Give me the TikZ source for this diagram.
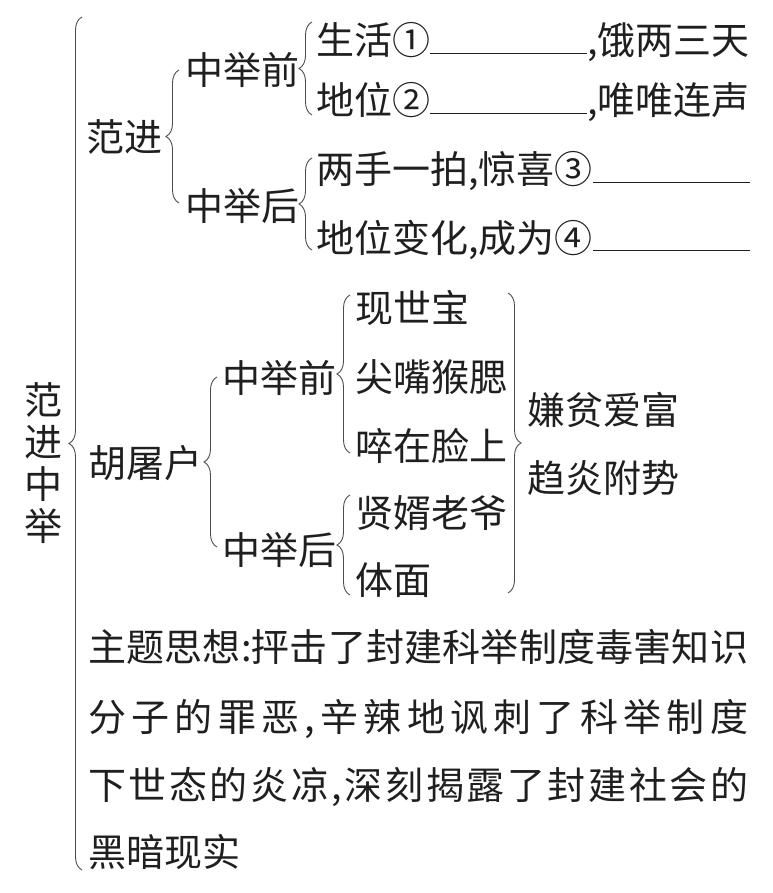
\documentclass[tikz,border=0pt]{standalone}
\usepackage{fontspec}
\setmainfont{Noto Sans CJK SC}
\usetikzlibrary{decorations.pathreplacing}

% spread the characters of one line over a fixed width
\newcommand\spreadline[1]{\hbox to 660pt{\spreadfirst#1\relax}}
\def\spreadfirst#1{#1\spreadrest}
\def\spreadrest#1{\ifx#1\relax\else\hfill#1\expandafter\spreadrest\fi}
\newcommand\blank{\rule[1pt]{157pt}{1.1pt}}

\begin{document}
\begin{tikzpicture}[x=1pt, y=-1pt, font=\fontsize{38}{42}\selectfont,
  txt/.style={anchor=base west, inner sep=0pt, text=black!88},
  br/.style={decorate, decoration={brace, amplitude=13pt}, draw=black!70, line width=0.9pt}]
  \useasboundingbox (0,0) rectangle (772,893);
  % title, set vertically
  \node[inner sep=0pt, align=center, text=black!88] (title) at (43,463) {范\\进\\中\\举};
  % Fan Jin
  \node[txt] (fanjin) at (86,152) {范进};
  \node[txt] (qian1) at (185,85) {中举前};
  \node[txt] (hou1) at (185,221) {中举后};
  \node[txt] (shenghuo) at (316,55) {生活①\blank,饿两三天};
  \node[txt] (diwei) at (316,115) {地位②\blank,唯唯连声};
  \node[txt] (liangshou) at (316,184) {两手一拍,惊喜③\blank};
  \node[txt] (bianhua) at (316,252) {地位变化,成为④\blank};
  % butcher Hu
  \node[txt] (hutu) at (88,477) {胡屠户};
  \node[txt] (qian2) at (222,392) {中举前};
  \node[txt] (hou2) at (222,564) {中举后};
  \node[txt] (xianshi) at (355,322) {现世宝};
  \node[txt] (jianzui) at (355,391) {尖嘴猴腮};
  \node[txt] (cui) at (355,460) {啐在脸上};
  \node[txt] (xianxu) at (355,527) {贤婿老爷};
  \node[txt] (timian) at (355,594) {体面};
  \node[txt] (xianpin) at (527,424) {嫌贫爱富};
  \node[txt] (quyan) at (527,492) {趋炎附势};
  % theme
  \node[txt] (zhuti1) at (88,661) {\spreadline{主题思想:抨击了封建科举制度毒害知识}};
  \node[txt] (zhuti2) at (88,731) {\spreadline{分子的罪恶,辛辣地讽刺了科举制度}};
  \node[txt] (zhuti3) at (88,799) {\spreadline{下世态的炎凉,深刻揭露了封建社会的}};
  \node[txt] (zhuti4) at (88,866) {黑暗现实};
  % brace ends
  \coordinate (bigtop) at (82,17);     \coordinate (bigbot) at (82,870);
  \coordinate (fjtop) at (179,70);     \coordinate (fjbot) at (179,203);
  \coordinate (q1top) at (312,22);     \coordinate (q1bot) at (312,115);
  \coordinate (h1top) at (312,158);    \coordinate (h1bot) at (312,250);
  \coordinate (hutop) at (217,377);    \coordinate (hubot) at (217,547);
  \coordinate (q2top) at (350,295);    \coordinate (q2bot) at (350,453);
  \coordinate (h2top) at (350,495);    \coordinate (h2bot) at (350,595);
  \coordinate (rtop) at (508,293);     \coordinate (rbot) at (508,593);
  % braces
  \draw[br] (bigbot) -- (bigtop);
  \draw[br] (fjbot) -- (fjtop);
  \draw[br] (q1bot) -- (q1top);
  \draw[br] (h1bot) -- (h1top);
  \draw[br] (hubot) -- (hutop);
  \draw[br] (q2bot) -- (q2top);
  \draw[br] (h2bot) -- (h2top);
  \draw[br] (rtop) -- (rbot);
\end{tikzpicture}
\end{document}
